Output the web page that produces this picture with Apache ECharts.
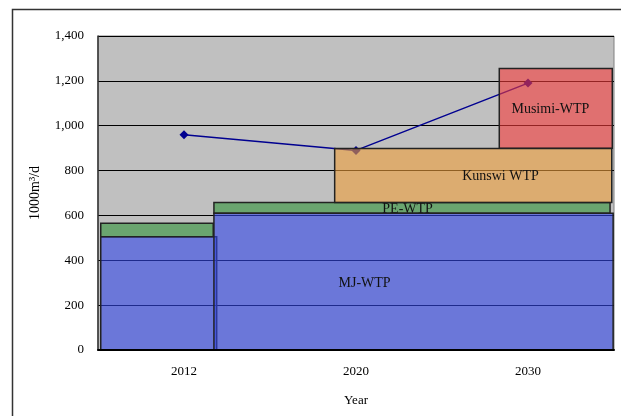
<!DOCTYPE html>
<html>
<head>
<meta charset="utf-8">
<script src="https://cdn.jsdelivr.net/npm/echarts@6/dist/echarts.min.js"></script>
<style>
  html, body { margin: 0; padding: 0; background: #fff; }
  #chart { width: 621px; height: 416px; }
</style>
</head>
<body>
<div id="chart"></div>
<script>
// 年份 / 需水量折线
const years = ['2012', '2020', '2030']
const demand = [960, 890, 1190]
const yTicks = [0, 200, 400, 600, 800, 1000, 1200, 1400]

// 水厂能力块：横向以年份格为单位（0~3），纵向为 1000m3/d
const plantNames = ['MJ-WTP', 'PE-WTP', 'MJ-WTP', 'PE-WTP', 'Kunswi WTP', 'Musimi-WTP']
const plantFrom = [0.016, 0.016, 0.674, 0.674, 1.376, 2.333]
const plantTo = [0.69, 0.67, 2.995, 2.977, 2.987, 2.99]
const plantLow = [0, 505, 0, 610, 658, 900]
const plantHigh = [505, 565, 610, 658, 898, 1255]

// 块内文字位置（同一单位）
const labelText = ['MJ-WTP', 'PE-WTP', 'Kunswi WTP', 'Musimi-WTP']
const labelX = [1.55, 1.80, 2.34, 2.63]
const labelY = [299, 626, 776, 1072]

const fillColor = {
  'MJ-WTP': 'rgba(50, 70, 234, 0.6)',
  'PE-WTP': 'rgba(49, 147, 57, 0.6)',
  'Kunswi WTP': 'rgba(239, 159, 59, 0.6)',
  'Musimi-WTP': 'rgba(245, 59, 59, 0.6)'
}
// 叠放顺序：PE 文字压在绿色块上，被 2020 的 MJ 块盖住下半
const rectZ = [3, 1, 3, 1, 3, 3]

const blocks = plantNames.map((n, i) => [plantFrom[i], plantTo[i], plantLow[i], plantHigh[i], i])
const labels = labelText.map((t, i) => [labelX[i], labelY[i], i])

const font = 'Liberation Serif, Times New Roman, serif'
const chart = echarts.init(document.getElementById('chart'))

const option = {
  animation: false,
  graphic: [{
    type: 'rect',
    shape: { x: 12.5, y: 9.5, width: 700, height: 500 },
    style: { fill: 'none', stroke: '#333', lineWidth: 1.5 },
    silent: true
  }],
  grid: {
    left: 98,
    right: 7,
    top: 36,
    bottom: 66,
    show: true,
    backgroundColor: '#c0c0c0',
    borderColor: '#808080',
    borderWidth: 1
  },
  xAxis: [{
    type: 'category',
    data: years,
    name: 'Year',
    nameLocation: 'middle',
    nameGap: 44,
    nameTextStyle: { fontFamily: font, fontSize: 13, color: '#000' },
    axisLine: { lineStyle: { color: '#000', width: 2 } },
    axisTick: { inside: true, length: 4, lineStyle: { color: '#000' } },
    axisLabel: { margin: 15, fontFamily: font, fontSize: 13, color: '#000' },
    z: 5
  }, {
    type: 'value',
    min: 0,
    max: 3,
    show: false
  }],
  yAxis: {
    type: 'value',
    min: 0,
    max: 1400,
    interval: 200,
    name: '1000m³/d',
    nameLocation: 'middle',
    nameGap: 56,
    nameTextStyle: { fontFamily: font, fontSize: 14, color: '#000' },
    axisLine: { show: true, lineStyle: { color: '#333', width: 1.5 } },
    axisTick: { show: false },
    axisLabel: {
      margin: 14,
      fontFamily: font,
      fontSize: 13,
      color: '#000',
      formatter: v => yTicks.includes(v) ? v.toLocaleString('en-US') : ''
    },
    splitLine: { show: true, lineStyle: { color: '#000', width: 1 } }
  },
  series: [{
    type: 'line',
    xAxisIndex: 0,
    data: demand,
    z: 1,
    symbol: 'diamond',
    symbolSize: 9,
    lineStyle: { color: '#000090', width: 1.5 },
    itemStyle: { color: '#000090' }
  }, {
    type: 'custom',
    xAxisIndex: 1,
    z: 2,
    data: blocks,
    encode: { x: [0, 1], y: [2, 3] },
    renderItem: function(params, api) {
      const i = api.value(4)
      const p0 = api.coord([api.value(0), api.value(3)])
      const p1 = api.coord([api.value(1), api.value(2)])
      return {
        type: 'rect',
        z2: rectZ[i],
        shape: { x: p0[0], y: p0[1], width: p1[0] - p0[0], height: p1[1] - p0[1] },
        style: { fill: fillColor[plantNames[i]], stroke: '#222', lineWidth: 1.5 }
      }
    }
  }, {
    type: 'custom',
    xAxisIndex: 1,
    z: 2,
    data: labels,
    encode: { x: 0, y: 1 },
    renderItem: function(params, api) {
      const i = api.value(2)
      const p = api.coord([api.value(0), api.value(1)])
      return {
        type: 'text',
        z2: labelText[i] === 'PE-WTP' ? 2 : 10,
        style: {
          x: p[0],
          y: p[1],
          text: labelText[i],
          align: 'center',
          verticalAlign: 'middle',
          fontFamily: font,
          fontSize: 14,
          fill: '#111'
        }
      }
    }
  }]
}

chart.setOption(option)
window.onresize = () => {
  chart.resize()
}
</script>
</body>
</html>
